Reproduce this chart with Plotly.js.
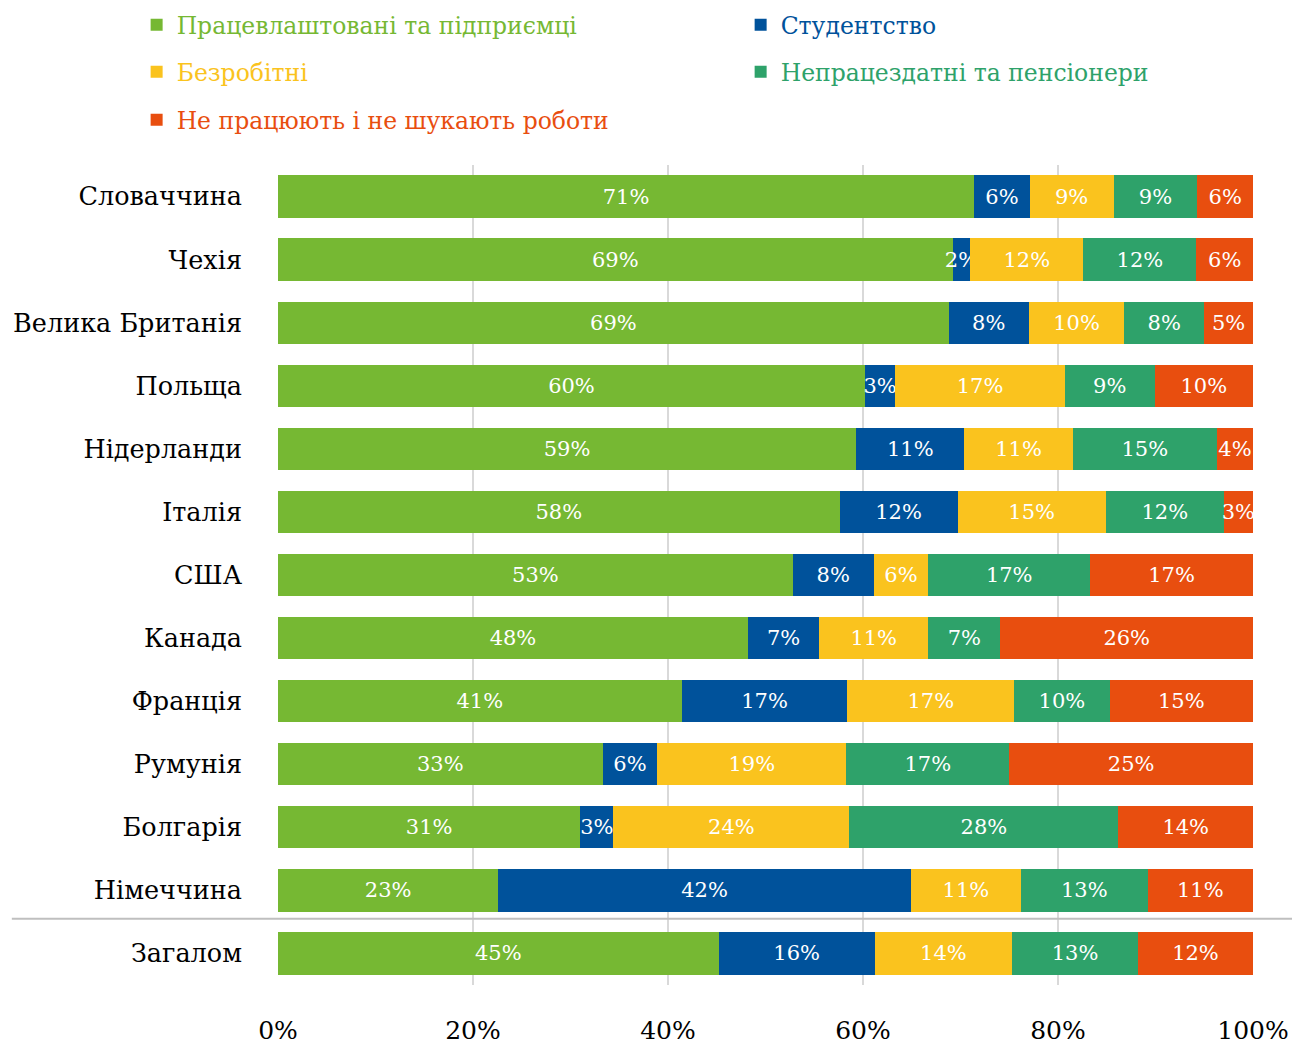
<!DOCTYPE html>
<html>
<head>
<meta charset="utf-8">
<script src="https://cdn.plot.ly/plotly-3.0.1.min.js"></script>
<style>body{margin:0;padding:0;background:#fff;} #chart{width:1292px;height:1045px;}</style>
</head>
<body>
<div id="chart"></div>
<script>
const categories = ["Словаччина","Чехія","Велика Британія","Польща","Нідерланди","Італія","США","Канада","Франція","Румунія","Болгарія","Німеччина","Загалом"];
const employed   = [71.4, 69.2, 68.8, 60.2, 59.3, 57.6, 52.8, 48.2, 41.4, 33.3, 31.0, 22.6, 45.2];
const students   = [5.7, 1.8, 8.2, 3.1, 11.1, 12.1, 8.3, 7.3, 17.0, 5.6, 3.4, 42.3, 16.0];
const unemployed = [8.6, 11.6, 9.8, 17.4, 11.1, 15.2, 5.6, 11.2, 17.1, 19.4, 24.2, 11.3, 14.1];
const disabled   = [8.6, 11.6, 8.2, 9.2, 14.8, 12.1, 16.6, 7.4, 9.8, 16.7, 27.6, 13.0, 12.9];
const inactive   = [5.7, 5.8, 5.0, 10.1, 3.7, 3.0, 16.7, 25.9, 14.7, 25.0, 13.8, 10.8, 11.8];
const seriesNames = ["Працевлаштовані та підприємці","Студентство","Безробітні","Непрацездатні та пенсіонери","Не працюють і не шукають роботи"];
const xTicks = [0,20,40,60,80,100];
const xTickLabels = ["0%","20%","40%","60%","80%","100%"];

const colors = ["#76b833","#00529b","#fac31e","#2ea26a","#e84e0f"];
const seriesData = [employed, students, unemployed, disabled, inactive];
const legendIds = ["legend","legend2","legend3","legend4","legend5"];
const FONT = "DejaVu Serif, serif";

const traces = seriesData.map((vals, i) => ({
  type: "bar",
  orientation: "h",
  y: categories,
  x: vals,
  name: '<span style="color:' + colors[i] + '">' + seriesNames[i] + '</span>',
  marker: {color: colors[i], line: {width: 0}},
  texttemplate: "%{x:.0f}%",
  textposition: "inside",
  insidetextanchor: "middle",
  textangle: 0,
  constraintext: "none",
  cliponaxis: false,
  textfont: {family: FONT, size: 21, color: "#ffffff"},
  legend: legendIds[i],
  hoverinfo: "x+y+name"
}));

function leg(x, y) {
  return {
    orientation: "v",
    xref: "paper", yref: "paper",
    x: x, y: y, xanchor: "left", yanchor: "middle",
    font: {family: FONT, size: 23.5},
    itemwidth: 30,
    bgcolor: "rgba(0,0,0,0)"
  };
}
const colA = -0.145, colB = 0.4745;
const rowY = [1.1707, 1.1134, 1.0549];

const layout = {
  width: 1292, height: 1045,
  margin: {l: 278, r: 39, t: 165, b: 60, autoexpand: false},
  paper_bgcolor: "#ffffff",
  plot_bgcolor: "#ffffff",
  barmode: "stack",
  bargap: 0.33,
  font: {family: FONT, color: "#000000"},
  xaxis: {
    range: [0, 100],
    tickvals: xTicks,
    ticktext: xTickLabels,
    showgrid: true,
    gridcolor: "#d9d9d9",
    gridwidth: 2,
    zeroline: false,
    showline: false,
    ticks: "",
    ticklabelstandoff: 28,
    tickfont: {family: FONT, size: 25, color: "#000000"},
    fixedrange: true
  },
  yaxis: {
    type: "category",
    categoryorder: "array",
    categoryarray: categories,
    autorange: "reversed",
    showgrid: false,
    zeroline: false,
    showline: false,
    ticks: "",
    ticklabelstandoff: 35,
    tickfont: {family: FONT, size: 25.5, color: "#000000"},
    fixedrange: true
  },
  legend: leg(colA, rowY[0]),
  legend2: leg(colB, rowY[0]),
  legend3: leg(colA, rowY[1]),
  legend4: leg(colB, rowY[1]),
  legend5: leg(colA, rowY[2]),
  shapes: [{
    type: "line",
    xref: "paper", yref: "y",
    x0: -0.273, x1: 1.04,
    y0: 11.45, y1: 11.45,
    line: {color: "#bfbfbf", width: 2},
    layer: "above"
  }],
  showlegend: true
};

Plotly.newPlot("chart", traces, layout, {displayModeBar: false, responsive: false});
</script>
</body>
</html>
